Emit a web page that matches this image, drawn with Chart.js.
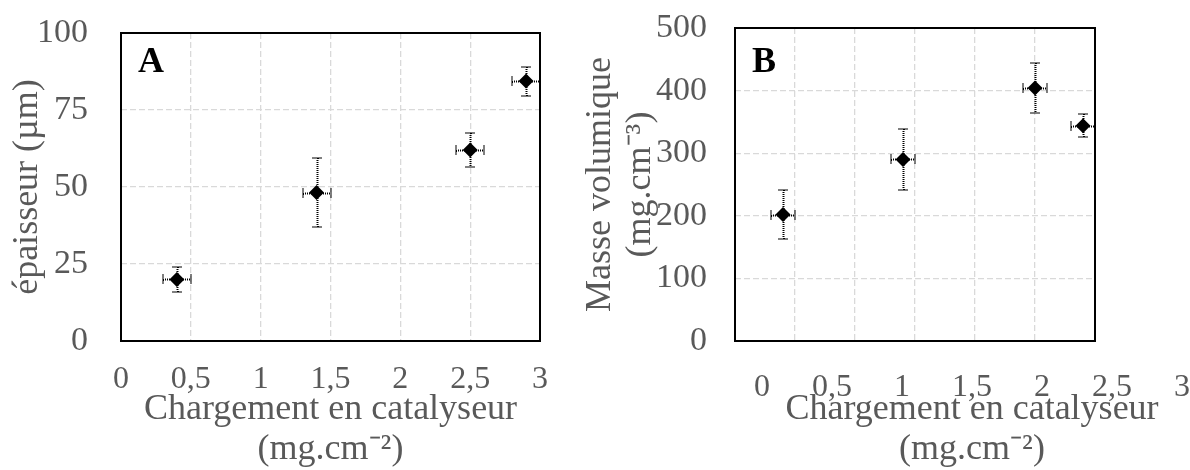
<!DOCTYPE html>
<html>
<head>
<meta charset="utf-8">
<script src="https://cdn.jsdelivr.net/npm/chart.js@4.4.1/dist/chart.umd.min.js"></script>
<style>
  body { margin: 0; background: #fff; }
  canvas { position: absolute; top: 0; }
</style>
</head>
<body>
<canvas id="chartA" width="580" height="470" style="left:0"></canvas>
<canvas id="chartB" width="610" height="470" style="left:580px"></canvas>
<canvas id="axisB" width="610" height="470" style="left:580px"></canvas>
<script>
// catalyst loading (mg.cm-2) and its error
const loading = [0.4, 1.4, 2.5, 2.9];
const loadingErr = [0.1, 0.1, 0.1, 0.1];
// A: thickness (µm)
const thickness = [20, 48.2, 62, 84.4];
const thicknessErr = [4, 11.3, 5.5, 4.7];
// B: density (mg.cm-3)
const density = [202, 290, 404, 344];
const densityErr = [39, 48, 40, 18];

const xTicks = [0, 0.5, 1, 1.5, 2, 2.5, 3];
const xTickLabels = ['0', '0,5', '1', '1,5', '2', '2,5', '3'];
const yTicksA = [0, 25, 50, 75, 100];
const yTicksB = [0, 100, 200, 300, 400, 500];

const grey = '#595959';
const serif = '"Liberation Serif", "Times New Roman", serif';

// black frame round the plot + the panel letter
const frame = {
  id: 'frame',
  beforeDatasetsDraw(chart, args, opts) {
    const { ctx, chartArea: a } = chart;
    ctx.save();
    ctx.strokeStyle = '#000';
    ctx.lineWidth = 2;
    ctx.strokeRect(a.left, a.top, a.right - a.left, a.bottom - a.top);
    ctx.fillStyle = '#000';
    ctx.font = 'bold 36px ' + serif;
    ctx.fillText(opts.letter, a.left + 17, opts.letterY);
    ctx.restore();
  }
};

// dotted error bars in x and y
const errorBars = {
  id: 'errorBars',
  beforeDatasetsDraw(chart) {
    const { ctx, scales: { x, y } } = chart;
    const r = v => Math.round(v) + 0.5;
    chart.data.datasets.forEach(ds => {
      ctx.save();
      ctx.strokeStyle = '#000';
      ctx.lineWidth = 2;
      ctx.setLineDash([1, 1]);
      ds.data.forEach((p, i) => {
        const px = r(x.getPixelForValue(p.x));
        const py = r(y.getPixelForValue(p.y));
        const top = Math.round(y.getPixelForValue(p.y + ds.yErr[i]));
        const bot = Math.round(y.getPixelForValue(p.y - ds.yErr[i]));
        const left = Math.round(x.getPixelForValue(p.x - ds.xErr[i]));
        const right = Math.round(x.getPixelForValue(p.x + ds.xErr[i]));
        const c = 5;
        ctx.beginPath();
        ctx.moveTo(px, top); ctx.lineTo(px, bot);
        ctx.moveTo(px - c, top); ctx.lineTo(px + c, top);
        ctx.moveTo(px - c, bot); ctx.lineTo(px + c, bot);
        ctx.moveTo(left, py); ctx.lineTo(right, py);
        ctx.moveTo(left, py - c); ctx.lineTo(left, py + c);
        ctx.moveTo(right, py - c); ctx.lineTo(right, py + c);
        ctx.stroke();
      });
      ctx.restore();
    });
  }
};

const gridOpts = { color: '#d9d9d9', lineWidth: 1.3, drawTicks: false };
const borderOpts = { display: false, dash: [6, 3] };

const xTitle = {
  display: true,
  text: ['Chargement en catalyseur', '(mg.cm\u207B\u00B2)'],
  color: grey,
  font: { family: serif, size: 36, lineHeight: '40px' },
  padding: { top: 0, bottom: 0 }
};
const xTickOpts = {
  color: grey,
  font: { family: serif, size: 32 },
  padding: 19,
  autoSkip: false,
  maxRotation: 0,
  callback: (v, i) => xTickLabels[i]
};

function points(xs, ys) {
  return xs.map((v, i) => ({ x: v, y: ys[i] }));
}

// fixed axis boxes, no extra room for overhanging labels
function fixX(s) {
  s.height = 129;
  s.paddingLeft = 0;
  s.paddingRight = 0;
}
function fixY(w) {
  return s => {
    s.width = w;
    s.paddingTop = 0;
    s.paddingBottom = 0;
  };
}

const markerStyle = {
  pointStyle: 'rectRot',
  pointRadius: 7.5,
  pointHoverRadius: 7.5,
  backgroundColor: '#000',
  borderColor: '#000',
  borderWidth: 0
};

// panel A
new Chart(document.getElementById('chartA'), {
  type: 'scatter',
  data: {
    datasets: [{
      data: points(loading, thickness),
      xErr: loadingErr,
      yErr: thicknessErr,
      ...markerStyle
    }]
  },
  options: {
    responsive: false,
    animation: false,
    layout: { padding: { top: 33, right: 40, left: 0, bottom: 0 } },
    plugins: {
      legend: { display: false },
      tooltip: { enabled: false },
      frame: { letter: 'A', letterY: 72 }
    },
    scales: {
      x: {
        type: 'linear', min: 0, max: 3,
        afterBuildTicks: s => { s.ticks = xTicks.map(v => ({ value: v })); },
        afterFit: fixX,
        grid: gridOpts, border: borderOpts,
        ticks: xTickOpts,
        title: xTitle
      },
      y: {
        min: 0, max: 100,
        afterBuildTicks: s => { s.ticks = yTicksA.map(v => ({ value: v })); },
        afterFit: fixY(121),
        grid: gridOpts, border: borderOpts,
        ticks: { color: grey, font: { family: serif, size: 34 }, padding: 33 },
        title: {
          display: true,
          text: 'épaisseur (µm)',
          color: grey,
          font: { family: serif, size: 36, lineHeight: '40px' },
          padding: { top: 8, bottom: 0 }
        }
      }
    }
  },
  plugins: [frame, errorBars]
});

// panel B (plot and y axis)
new Chart(document.getElementById('chartB'), {
  type: 'scatter',
  data: {
    datasets: [{
      data: points(loading, density),
      xErr: loadingErr,
      yErr: densityErr,
      ...markerStyle
    }]
  },
  options: {
    responsive: false,
    animation: false,
    layout: { padding: { top: 28, right: 95, left: 0, bottom: 0 } },
    plugins: {
      legend: { display: false },
      tooltip: { enabled: false },
      frame: { letter: 'B', letterY: 72 }
    },
    scales: {
      x: {
        type: 'linear', min: 0, max: 3,
        afterBuildTicks: s => { s.ticks = xTicks.map(v => ({ value: v })); },
        afterFit: fixX,
        grid: gridOpts, border: borderOpts,
        ticks: { display: false }
      },
      y: {
        min: 0, max: 500,
        afterBuildTicks: s => { s.ticks = yTicksB.map(v => ({ value: v })); },
        afterFit: fixY(155),
        grid: gridOpts, border: borderOpts,
        ticks: { color: grey, font: { family: serif, size: 34 }, padding: 28 },
        title: {
          display: true,
          text: ['Masse volumique', '(mg.cm\u207B\u00B3)'],
          color: grey,
          font: { family: serif, size: 36, lineHeight: '40px' },
          padding: { top: 1, bottom: 0 }
        }
      }
    }
  },
  plugins: [frame, errorBars]
});

// panel B x axis labels sit wider than its plot, so they get their own axis
new Chart(document.getElementById('axisB'), {
  type: 'scatter',
  data: { datasets: [] },
  options: {
    responsive: false,
    animation: false,
    layout: { padding: { top: 28, right: 8, left: 182, bottom: 0 } },
    plugins: { legend: { display: false }, tooltip: { enabled: false } },
    scales: {
      x: {
        type: 'linear', min: 0, max: 3,
        afterBuildTicks: s => { s.ticks = xTicks.map(v => ({ value: v })); },
        afterFit: fixX,
        grid: { display: false }, border: { display: false },
        ticks: xTickOpts,
        title: xTitle
      },
      y: { display: false, min: 0, max: 1 }
    }
  }
});
</script>
</body>
</html>
